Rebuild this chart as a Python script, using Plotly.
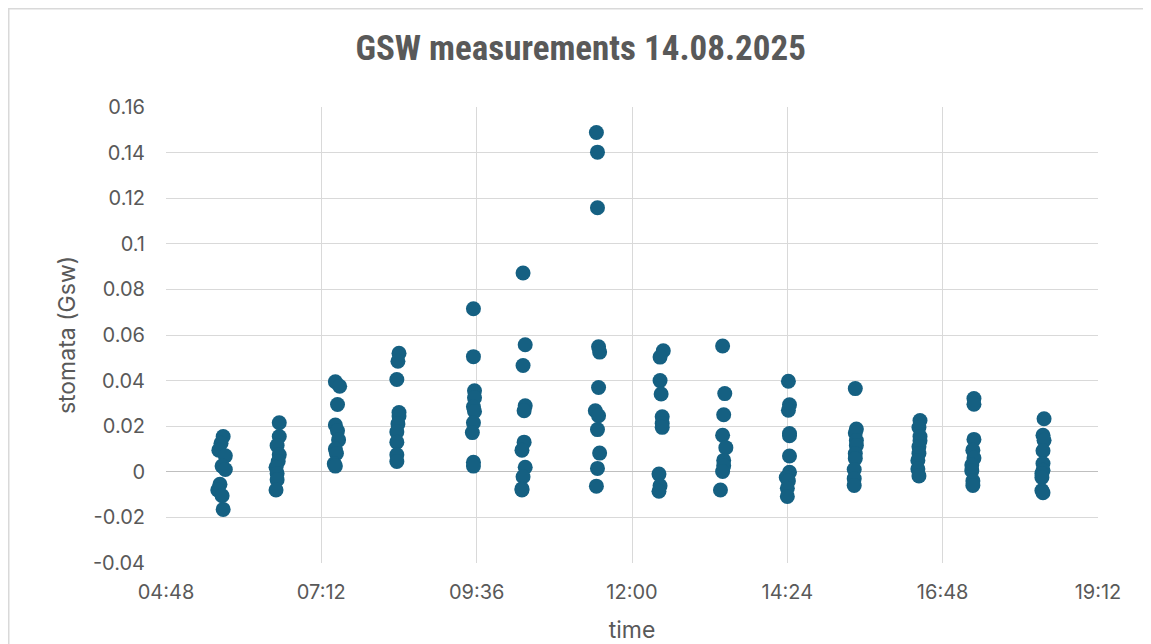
import plotly.graph_objects as go

DAY = "2025-08-14 "

# measurement times (HH:MM) and stomatal conductance values, grouped by session
times = [
    # ~05:39
    "05:41", "05:39", "05:37", "05:43", "05:40", "05:43", "05:38", "05:36", "05:40", "05:41",
    # ~06:32
    "06:33", "06:33", "06:31", "06:33", "06:32", "06:30", "06:31", "06:31", "06:30",
    # ~07:27
    "07:25", "07:29", "07:27", "07:25", "07:27", "07:28", "07:25", "07:26", "07:24", "07:25",
    # ~08:23
    "08:24", "08:23", "08:22", "08:24", "08:24", "08:23", "08:22", "08:22", "08:22", "08:22",
    # ~09:33
    "09:33", "09:33", "09:34", "09:34", "09:33", "09:34", "09:33", "09:32", "09:33", "09:33",
    # ~10:19
    "10:19", "10:21", "10:19", "10:21", "10:20", "10:20", "10:18", "10:21", "10:19", "10:18", "10:18",
    # ~11:28
    "11:27", "11:28", "11:28", "11:29", "11:30", "11:29", "11:26", "11:29", "11:28", "11:30", "11:28", "11:27",
    # ~12:27
    "12:29", "12:26", "12:26", "12:27", "12:28", "12:28", "12:28", "12:25", "12:26", "12:25",
    # ~13:25
    "13:24", "13:26", "13:25", "13:24", "13:27", "13:25", "13:25", "13:24", "13:22",
    # ~14:26
    "14:25", "14:26", "14:25", "14:26", "14:26", "14:26", "14:26", "14:23", "14:25", "14:24", "14:24",
    # ~15:27
    "15:27", "15:28", "15:27", "15:28", "15:28", "15:27", "15:27", "15:26", "15:26", "15:26",
    # ~16:26
    "16:27", "16:26", "16:27", "16:27", "16:26", "16:26", "16:25", "16:25", "16:26",
    # ~17:17
    "17:17", "17:17", "17:17", "17:16", "17:17", "17:15", "17:15", "17:16", "17:16",
    # ~18:21
    "18:22", "18:21", "18:22", "18:21", "18:21", "18:21", "18:20", "18:20", "18:20", "18:21",
]

gsw = [
    0.0155, 0.0125, 0.0095, 0.007, 0.0025, 0.001, -0.0055, -0.008, -0.0105, -0.0165,
    0.0215, 0.0155, 0.0115, 0.0075, 0.0045, 0.002, -0.0007, -0.0035, -0.008,
    0.0395, 0.0375, 0.0295, 0.0205, 0.018, 0.014, 0.010, 0.008, 0.0035, 0.0025,
    0.052, 0.0485, 0.0405, 0.026, 0.0245, 0.021, 0.0175, 0.013, 0.0075, 0.0045,
    0.0715, 0.0505, 0.0355, 0.0325, 0.0285, 0.0265, 0.0215, 0.0172, 0.0042, 0.0025,
    0.0872, 0.0557, 0.0466, 0.029, 0.0268, 0.013, 0.0095, 0.002, -0.0022, -0.0075, -0.008,
    0.1488, 0.1402, 0.1158, 0.0548, 0.0525, 0.037, 0.0268, 0.0246, 0.0185, 0.0082, 0.0015, -0.0063,
    0.0531, 0.0503, 0.0400, 0.0341, 0.0241, 0.0212, 0.0195, -0.001, -0.0061, -0.0085,
    0.0552, 0.0343, 0.0250, 0.0160, 0.0106, 0.0050, 0.0026, 0.0001, -0.0080,
    0.0397, 0.0294, 0.0270, 0.0168, 0.0158, 0.0069, -0.0002, -0.0025, -0.0040, -0.0072, -0.0108,
    0.0365, 0.0188, 0.0170, 0.0137, 0.0115, 0.0080, 0.0058, 0.0010, -0.0030, -0.0060,
    0.0225, 0.0194, 0.0155, 0.0136, 0.0110, 0.0080, 0.0050, 0.0012, -0.0018,
    0.0321, 0.0296, 0.0142, 0.0095, 0.0060, 0.0030, 0.0005, -0.0040, -0.0060,
    0.0233, 0.0160, 0.0138, 0.0092, 0.0036, 0.0007, -0.0008, -0.0025, -0.0082, -0.0092,
]

x_tick_labels = ["04:48", "07:12", "09:36", "12:00", "14:24", "16:48", "19:12"]
y_tick_values = [-0.04, -0.02, 0, 0.02, 0.04, 0.06, 0.08, 0.1, 0.12, 0.14, 0.16]
y_tick_labels = ["-0.04", "-0.02", "0", "0.02", "0.04", "0.06", "0.08", "0.1", "0.12", "0.14", "0.16"]

TEXT = "#595959"
GRID = "#D9D9D9"
MARK = "#156082"
FONT = "Inter, Liberation Sans, Arial, sans-serif"

W, H = 1143, 636
L, R, T, B = 158, 53, 99, 81
PW, PH = W - L - R, H - T - B

fig = go.Figure(
    go.Scatter(
        x=[DAY + t for t in times],
        y=gsw,
        mode="markers",
        marker=dict(size=15, color=MARK, line=dict(width=0)),
        hoverinfo="x+y",
    )
)

fig.update_layout(
    width=W,
    height=H,
    paper_bgcolor="white",
    plot_bgcolor="white",
    margin=dict(l=L, r=R, t=T, b=B),
    showlegend=False,
    title=dict(
        text="<b>GSW measurements 14.08.2025</b>",
        x=0.501,
        xanchor="center",
        y=1 - 40 / H,
        yanchor="middle",
        font=dict(family="Roboto Condensed, Liberation Sans Narrow, Arial Narrow, sans-serif",
                  size=35, color=TEXT),
    ),
    font=dict(family=FONT, size=20, color=TEXT),
)

fig.update_xaxes(
    type="date",
    range=[DAY + "04:48", DAY + "19:12"],
    tickmode="array",
    tickvals=[DAY + t for t in x_tick_labels],
    ticktext=x_tick_labels,
    showgrid=True,
    gridcolor=GRID,
    gridwidth=1,
    showline=False,
    zeroline=False,
    ticks="",
    ticklabelstandoff=15,
    automargin=False,
    tickfont=dict(size=20, color=TEXT),
    title=dict(text="time", font=dict(size=23, color=TEXT), standoff=18),
)

fig.update_yaxes(
    range=[-0.04, 0.16],
    tickmode="array",
    tickvals=y_tick_values,
    ticktext=y_tick_labels,
    showgrid=True,
    gridcolor=GRID,
    gridwidth=1,
    zeroline=True,
    zerolinecolor="#BFBFBF",
    zerolinewidth=1,
    showline=False,
    ticks="",
    ticklabelstandoff=20,
    automargin=False,
    tickfont=dict(size=20, color=TEXT),
    title=dict(text="stomata (Gsw)", font=dict(size=23, color=TEXT), standoff=10),
)

# outer chart border (left and top visible in reference)
fig.add_shape(type="rect", xref="paper", yref="paper",
              x0=(0.75 - L) / PW, x1=(W + 20 - L) / PW,
              y0=-(B + 20) / PH, y1=1 + (T - 0.75) / PH,
              line=dict(color="#D9D9D9", width=1.5), fillcolor="rgba(0,0,0,0)",
              layer="below")

fig.write_html("out.html")
